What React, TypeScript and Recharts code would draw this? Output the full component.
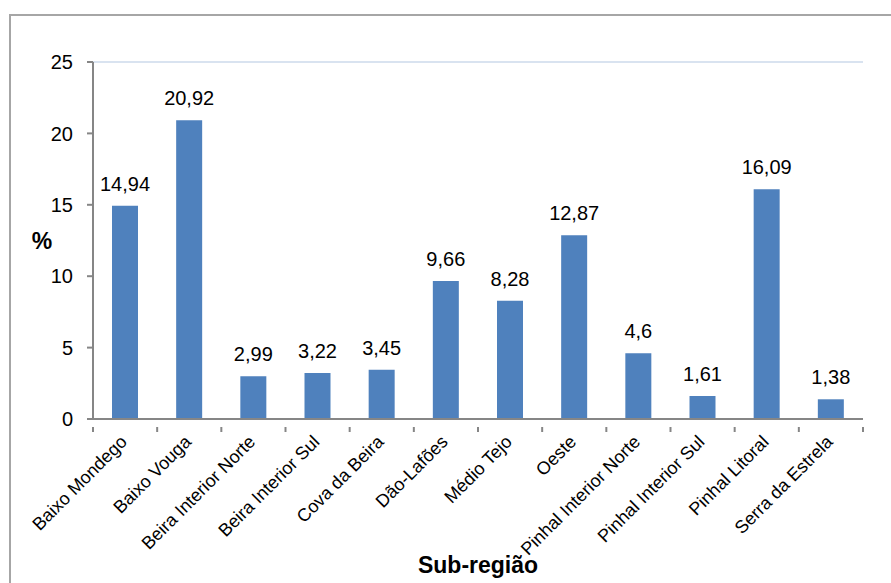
import { Bar, BarChart, CartesianGrid, LabelList, XAxis, YAxis } from "recharts";

const subRegions = [
  "Baixo Mondego",
  "Baixo Vouga",
  "Beira Interior Norte",
  "Beira Interior Sul",
  "Cova da Beira",
  "Dão-Lafões",
  "Médio Tejo",
  "Oeste",
  "Pinhal Interior Norte",
  "Pinhal Interior Sul",
  "Pinhal Litoral",
  "Serra da Estrela",
];

const percentages = [14.94, 20.92, 2.99, 3.22, 3.45, 9.66, 8.28, 12.87, 4.6, 1.61, 16.09, 1.38];

const yTicks = [0, 5, 10, 15, 20, 25];

const WIDTH = 891;
const HEIGHT = 583;
const MARGIN = { top: 62, right: 28, left: 33, bottom: 4 };
const Y_AXIS_W = 60;
const X_AXIS_H = 160;
const FONT = '"Liberation Sans", Arial, Helvetica, sans-serif';
const AXIS = "#868686";
const GRID = "#d9e3f0";
const BAR = "#4f81bd";

const plotWidth = WIDTH - MARGIN.left - Y_AXIS_W - MARGIN.right;
const halfBand = plotWidth / subRegions.length / 2;

const data = subRegions.map((name, i) => ({ name, value: percentages[i] }));

const fmt = (v: any) => String(v).replace(".", ",");

function CategoryTick(props: any) {
  const { x, y, payload, index } = props;
  const ax = x + 3;
  const ay = y + 16;
  const last = index === subRegions.length - 1;
  return (
    <g>
      <line x1={x - halfBand} y1={y} x2={x - halfBand} y2={y + 5} stroke={AXIS} strokeWidth={2} />
      {last && (
        <line x1={x + halfBand} y1={y} x2={x + halfBand} y2={y + 5} stroke={AXIS} strokeWidth={2} />
      )}
      <text
        x={ax}
        y={ay}
        textAnchor="end"
        fontSize={18}
        fontFamily={FONT}
        fill="#000"
        transform={`rotate(-45, ${ax}, ${ay})`}
      >
        {payload.value}
      </text>
    </g>
  );
}

export default function App() {
  return (
    <div
      style={{
        position: "fixed",
        left: 0,
        top: 0,
        width: WIDTH,
        height: HEIGHT,
        overflow: "hidden",
        background: "#fff",
        fontFamily: FONT,
      }}
    >
      <div
        style={{
          position: "absolute",
          left: 9,
          top: 14,
          width: 1000,
          height: 1000,
          border: "2px solid #a6a6a6",
        }}
      />
      <BarChart width={WIDTH} height={HEIGHT} data={data} margin={MARGIN} style={{ position: "absolute", left: 0, top: 0 }}>
        <CartesianGrid vertical={false} stroke={GRID} strokeWidth={2} />
        <XAxis
          dataKey="name"
          interval={0}
          height={X_AXIS_H}
          tickLine={false}
          axisLine={{ stroke: AXIS, strokeWidth: 2 }}
          tick={<CategoryTick />}
          label={{
            content: (p: any) => {
              const vb = p.viewBox;
              return (
                <text
                  x={vb.x + vb.width / 2}
                  y={vb.y + 154}
                  textAnchor="middle"
                  fontSize={23}
                  fontWeight="bold"
                  fontFamily={FONT}
                  fill="#000"
                >
                  Sub-região
                </text>
              );
            },
          }}
        />
        <YAxis
          yAxisId="left"
          width={Y_AXIS_W}
          domain={[0, 25]}
          ticks={yTicks}
          tickSize={6}
          tickMargin={14}
          tickLine={{ stroke: AXIS, strokeWidth: 2 }}
          axisLine={{ stroke: AXIS, strokeWidth: 2 }}
          tick={{ fill: "#000", fontSize: 20, fontFamily: FONT }}
          label={{
            content: (p: any) => {
              const vb = p.viewBox;
              return (
                <text
                  x={vb.x + 9}
                  y={vb.y + vb.height / 2 + 8}
                  textAnchor="middle"
                  fontSize={23}
                  fontWeight="bold"
                  fontFamily={FONT}
                  fill="#000"
                >
                  %
                </text>
              );
            },
          }}
        />
        <YAxis
          yAxisId="right"
          orientation="right"
          width={0}
          domain={[0, 25]}
          tick={false}
          tickLine={false}
          axisLine={{ stroke: GRID, strokeWidth: 2 }}
        />
        <Bar yAxisId="left" dataKey="value" fill={BAR} barSize={26} isAnimationActive={false}>
          <LabelList
            dataKey="value"
            position="top"
            offset={15}
            formatter={fmt}
            fill="#000"
            fontSize={20}
            fontFamily={FONT}
          />
        </Bar>
      </BarChart>
    </div>
  );
}
